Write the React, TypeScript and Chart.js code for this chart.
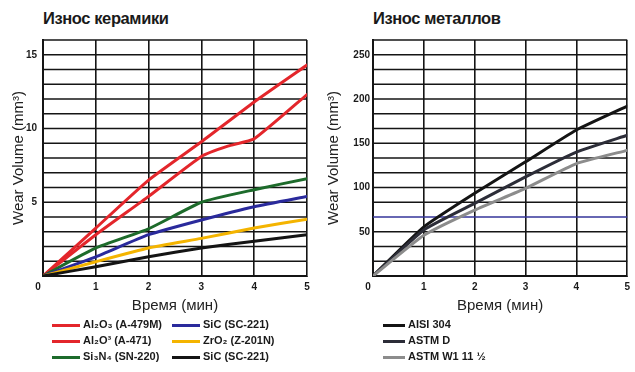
import React, { useEffect, useRef } from "react";
import { Chart, registerables } from "chart.js";

Chart.register(...registerables);

// ---------- Data ----------
const timeMin = [0, 1, 2, 3, 4, 5];
const timeA471 = [0, 1, 2, 3, 3.5, 4, 5];

const ceramicLabels = [
  "Al₂O₃ (A-479M)",
  "Al₂O³ (A-471)",
  "Si₃N₄ (SN-220)",
  "SiC (SC-221)",
  "ZrO₂ (Z-201N)",
  "SiC (SC-221)",
];
const ceramicColors = ["#e3262b", "#e3262b", "#1d6b2b", "#2a2a9c", "#f4b400", "#141414"];
const al2o3_A479M = [0, 3.25, 6.5, 9.1, 11.8, 14.3];
const al2o3_A471 = [0, 2.8, 5.4, 8.1, 8.8, 9.3, 12.3];
const si3n4_SN220 = [0, 1.9, 3.2, 5.0, 5.85, 6.6];
const sic_SC221_blue = [0, 1.3, 2.8, 3.8, 4.7, 5.4];
const zro2_Z201N = [0, 0.97, 1.9, 2.55, 3.25, 3.85];
const sic_SC221_black = [0, 0.63, 1.3, 1.9, 2.35, 2.8];

const metalLabels = ["AISI 304", "ASTM D", "ASTM W1 11 ½"];
const metalColors = ["#141414", "#2c2d38", "#8c8c8c"];
const aisi304 = [0, 55.5, 93.5, 129, 165, 192];
const astmD = [0, 52, 82, 112, 140, 159];
const astmW1 = [0, 46, 74.5, 99, 127, 142];

const ceramicYMax = 16;
const ceramicYStep = 1;
const metalYMax = 800 / 3;
const metalYStep = 50 / 3;
const labelEvery = [5, 50];

const FONT = "'Liberation Sans', Arial, sans-serif";
const GRID = "#151515";
const GRID_BLUE = "#34349a";

function pts(xs: number[], ys: number[]) {
  return ys.map((y, i) => ({ x: xs[i], y }));
}

// Horizontal grid lines at every grid step, positioned by the chart's own y scale
const hGridPlugin = {
  id: "hgrid",
  beforeDatasetsDraw(chart: any, _args: any, opts: any) {
    const ys = chart.scales.y;
    const { left, right } = chart.chartArea;
    const ctx = chart.ctx;
    const step = opts.step;
    const count = Math.round(opts.max / step);
    ctx.save();
    for (let k = 0; k <= count; k++) {
      const value = k * step;
      const py = ys.getPixelForValue(value);
      const isBlue = opts.blueValue !== undefined && opts.blueValue !== null && Math.abs(value - opts.blueValue) < 1e-3;
      ctx.strokeStyle = isBlue ? GRID_BLUE : GRID;
      ctx.lineWidth = 1.6;
      ctx.beginPath();
      ctx.moveTo(left, py);
      ctx.lineTo(right, py);
      ctx.stroke();
    }
    ctx.restore();
  },
};

function makeOptions(opts: {
  yMax: number;
  yStep: number;
  labelEvery: number;
  yAxisWidth: number;
  tickPad: number;
  padRight: number;
  titlePadTop: number;
  blueValue?: number;
}) {
  const isMult = (v: number, m: number) => {
    const r = Math.round(v);
    return Math.abs(v - r) < 1e-6 && r % m === 0;
  };
  return {
    animation: false as const,
    responsive: false,
    maintainAspectRatio: false,
    layout: { padding: { top: 40, right: opts.padRight, bottom: 0, left: 0 } },
    plugins: {
      legend: { display: false },
      tooltip: { enabled: false },
      title: { display: false },
      hgrid: { blueValue: opts.blueValue, step: opts.yStep, max: opts.yMax },
    },
    elements: { point: { radius: 0 }, line: { borderWidth: 3, tension: 0.15, borderCapStyle: "round" as const } },
    scales: {
      x: {
        type: "linear" as const,
        min: 0,
        max: 5,
        ticks: {
          stepSize: 1,
          color: "#1a1a1a",
          padding: 5,
          font: { family: FONT, size: 10, weight: "bold" as const },
          callback: (v: any) => (v === 0 ? "0\u2002\u2002" : String(v)),
          maxRotation: 0,
        },
        grid: { color: GRID, lineWidth: 1.6, tickLength: 0 },
        border: { display: true, color: GRID, width: 2 },
        title: {
          display: true,
          text: "Время (мин)",
          color: "#222",
          font: { family: FONT, size: 15 },
          padding: { top: 0, bottom: 5 },
        },
        afterFit: (s: any) => {
          s.height = 44;
        },
      },
      y: {
        type: "linear" as const,
        min: 0,
        max: opts.yMax,
        ticks: {
          stepSize: opts.yStep,
          maxTicksLimit: 100,
          autoSkip: false,
          color: "#1a1a1a",
          padding: opts.tickPad,
          font: { family: FONT, size: 10, weight: "bold" as const },
          callback: (v: any) => {
            const n = Number(v);
            if (n > 0.5 && isMult(n, opts.labelEvery)) return String(Math.round(n));
            return " ";
          },
        },
        grid: { display: false, tickLength: 0 },
        border: { display: true, color: GRID, width: 2 },
        title: {
          display: true,
          text: "Wear Volume (mm³)",
          color: "#222",
          font: { family: FONT, size: 15 },
          padding: { top: opts.titlePadTop, bottom: 0 },
        },
        afterFit: (s: any) => {
          s.width = opts.yAxisWidth;
        },
      },
    },
  };
}

function CeramicChart() {
  const ref = useRef<HTMLCanvasElement | null>(null);
  useEffect(() => {
    if (!ref.current) return;
    const series = [
      pts(timeMin, al2o3_A479M),
      pts(timeA471, al2o3_A471),
      pts(timeMin, si3n4_SN220),
      pts(timeMin, sic_SC221_blue),
      pts(timeMin, zro2_Z201N),
      pts(timeMin, sic_SC221_black),
    ];
    const chart = new Chart(ref.current, {
      type: "line",
      data: {
        datasets: series
          .map((d, i) => ({
            label: ceramicLabels[i],
            data: d,
            borderColor: ceramicColors[i],
            backgroundColor: ceramicColors[i],
            fill: false,
          }))
          .reverse(),
      },
      options: makeOptions({
        yMax: ceramicYMax,
        yStep: ceramicYStep,
        labelEvery: labelEvery[0],
        yAxisWidth: 43,
        tickPad: 6,
        padRight: 13,
        titlePadTop: 10,
      }) as any,
      plugins: [hGridPlugin as any],
    });
    return () => chart.destroy();
  }, []);
  return <canvas ref={ref} width={320} height={320} style={{ position: "absolute", left: 0, top: 0, width: 320, height: 320 }} />;
}

function MetalChart() {
  const ref = useRef<HTMLCanvasElement | null>(null);
  useEffect(() => {
    if (!ref.current) return;
    const series = [pts(timeMin, aisi304), pts(timeMin, astmD), pts(timeMin, astmW1)];
    const chart = new Chart(ref.current, {
      type: "line",
      data: {
        datasets: series
          .map((d, i) => ({
            label: metalLabels[i],
            data: d,
            borderColor: metalColors[i],
            backgroundColor: metalColors[i],
            fill: false,
          }))
          .reverse(),
      },
      options: makeOptions({
        yMax: metalYMax,
        yStep: metalYStep,
        labelEvery: labelEvery[1],
        yAxisWidth: 53,
        tickPad: 3,
        padRight: 3,
        titlePadTop: 5,
        blueValue: 200 / 3,
      }) as any,
      plugins: [hGridPlugin as any],
    });
    return () => chart.destroy();
  }, []);
  return <canvas ref={ref} width={315} height={320} style={{ position: "absolute", left: 320, top: 0, width: 315, height: 320 }} />;
}

const legendText: React.CSSProperties = {
  position: "absolute",
  fontFamily: FONT,
  fontWeight: "bold",
  fontSize: 11,
  lineHeight: "14px",
  color: "#1a1a1a",
  whiteSpace: "nowrap",
};

function LegendItem({ x, y, w, color, label }: { x: number; y: number; w: number; color: string; label: string }) {
  return (
    <>
      <div style={{ position: "absolute", left: x, top: y - 1.5, width: w, height: 3, background: color }} />
      <div style={{ ...legendText, left: x + w + 3, top: y - 8 }}>{label}</div>
    </>
  );
}

const titleStyle: React.CSSProperties = {
  position: "absolute",
  top: 8,
  fontFamily: FONT,
  fontWeight: "bold",
  fontSize: 16.5,
  lineHeight: "20px",
  color: "#1a1a1a",
  letterSpacing: -0.4,
  whiteSpace: "nowrap",
};

export default function App() {
  const rows = [325, 341, 357];
  return (
    <div style={{ position: "absolute", left: 0, top: 0, width: 635, height: 372, background: "#fff", overflow: "hidden" }}>
      <div style={{ ...titleStyle, left: 43 }}>Износ керамики</div>
      <div style={{ ...titleStyle, left: 373 }}>Износ металлов</div>
      <CeramicChart />
      <MetalChart />
      {[0, 1, 2].map((i) => (
        <LegendItem key={"c" + i} x={52} y={rows[i]} w={28} color={ceramicColors[i]} label={ceramicLabels[i]} />
      ))}
      {[3, 4, 5].map((i) => (
        <LegendItem key={"c" + i} x={172} y={rows[i - 3]} w={28} color={ceramicColors[i]} label={ceramicLabels[i]} />
      ))}
      {[0, 1, 2].map((i) => (
        <LegendItem key={"m" + i} x={383} y={rows[i]} w={22} color={metalColors[i]} label={metalLabels[i]} />
      ))}
    </div>
  );
}
